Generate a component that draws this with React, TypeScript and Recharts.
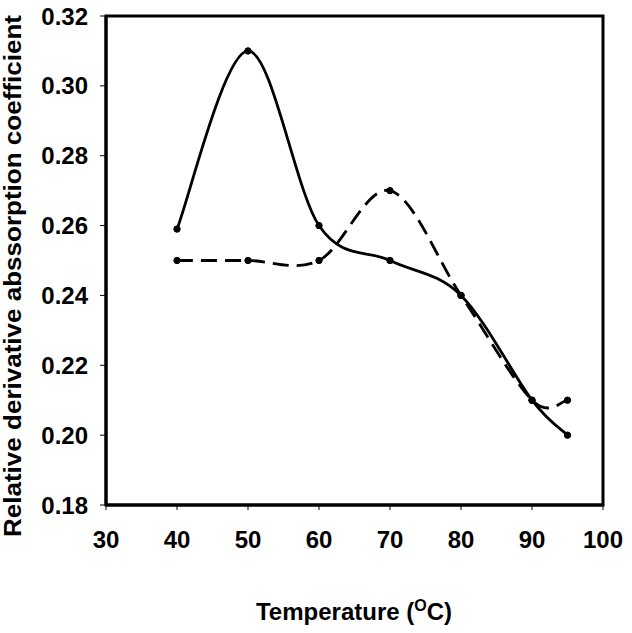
import React from 'react'
import { LineChart, Line, XAxis, YAxis, ReferenceArea } from 'recharts'

const temperatures = [40, 50, 60, 70, 80, 90, 95]
const solidSeries = [0.259, 0.31, 0.26, 0.25, 0.24, 0.21, 0.2]
const dashedSeries = [0.25, 0.25, 0.25, 0.27, 0.24, 0.21, 0.21]
const xTicks = [30, 40, 50, 60, 70, 80, 90, 100]
const yTicks = [0.18, 0.2, 0.22, 0.24, 0.26, 0.28, 0.3, 0.32]

const data = temperatures.map((t, i) => ({ t, solid: solidSeries[i], dashed: dashedSeries[i] }))

const FONT = '"Liberation Sans", Arial, sans-serif'

// Excel-like smoothed line (uniform Catmull-Rom through the points)
const smoothCurve: any = (context: any) => {
  let pts: number[][] = []
  return {
    areaStart() {},
    areaEnd() {},
    lineStart() {
      pts = []
    },
    point(x: number, y: number) {
      pts.push([+x, +y])
    },
    lineEnd() {
      const n = pts.length
      if (!n) return
      context.moveTo(pts[0][0], pts[0][1])
      for (let i = 0; i < n - 1; i++) {
        const p0 = pts[Math.max(i - 1, 0)]
        const p1 = pts[i]
        const p2 = pts[i + 1]
        const p3 = pts[Math.min(i + 2, n - 1)]
        context.bezierCurveTo(
          p1[0] + (p2[0] - p0[0]) / 6,
          p1[1] + (p2[1] - p0[1]) / 6,
          p2[0] - (p3[0] - p1[0]) / 6,
          p2[1] - (p3[1] - p1[1]) / 6,
          p2[0],
          p2[1]
        )
      }
    },
  }
}

const YTitle = () => (
  <text
    transform="translate(21,276) rotate(-90)"
    textAnchor="middle"
    fontFamily={FONT}
    fontWeight="bold"
    fontSize={23}
    textLength={522}
    lengthAdjust="spacingAndGlyphs"
    fill="#000"
  >
    Relative derivative abssorption coefficient
  </text>
)

const XTitle = () => (
  <text x={354} y={620} textAnchor="middle" fontFamily={FONT} fontWeight="bold" fontSize={24} fill="#000">
    Temperature (<tspan dy={-9} fontSize={16}>O</tspan>
    <tspan dy={9}>C)</tspan>
  </text>
)

export default function App() {
  const tickStyle = { fontFamily: FONT, fontWeight: 'bold', fontSize: 24, fill: '#000' }
  return (
    <div style={{ position: 'absolute', left: 0, top: 0, width: 632, height: 633, background: '#fff' }}>
      <LineChart width={632} height={633} data={data} margin={{ top: 16, right: 29, bottom: 98, left: 0 }}>
        <XAxis
          dataKey="t"
          type="number"
          domain={[30, 100]}
          ticks={xTicks}
          tick={tickStyle}
          tickSize={5}
          tickMargin={21}
          axisLine={{ stroke: '#000', strokeWidth: 3 }}
          tickLine={{ stroke: '#000', strokeWidth: 1 }}
          label={{ content: <XTitle /> }}
        />
        <YAxis
          type="number"
          domain={[0.18, 0.32]}
          ticks={yTicks}
          tickFormatter={(v: number) => v.toFixed(2)}
          tick={tickStyle}
          width={106}
          tickSize={6}
          tickMargin={12}
          axisLine={{ stroke: '#000', strokeWidth: 3 }}
          tickLine={{ stroke: '#000', strokeWidth: 1 }}
          label={{ content: <YTitle /> }}
        />
        <ReferenceArea x1={30} x2={100} y1={0.18} y2={0.32} fill="none" stroke="#000" strokeWidth={3} />
        <Line
          dataKey="solid"
          type={smoothCurve}
          stroke="#000"
          strokeWidth={2.8}
          dot={{ r: 3.2, fill: '#000', stroke: '#000', strokeWidth: 1 }}
          isAnimationActive={false}
        />
        <Line
          dataKey="dashed"
          type={smoothCurve}
          stroke="#000"
          strokeWidth={2.8}
          strokeDasharray="16 8"
          dot={{ r: 3.2, fill: '#000', stroke: '#000', strokeWidth: 1, strokeDasharray: '' }}
          isAnimationActive={false}
        />
      </LineChart>
    </div>
  )
}
